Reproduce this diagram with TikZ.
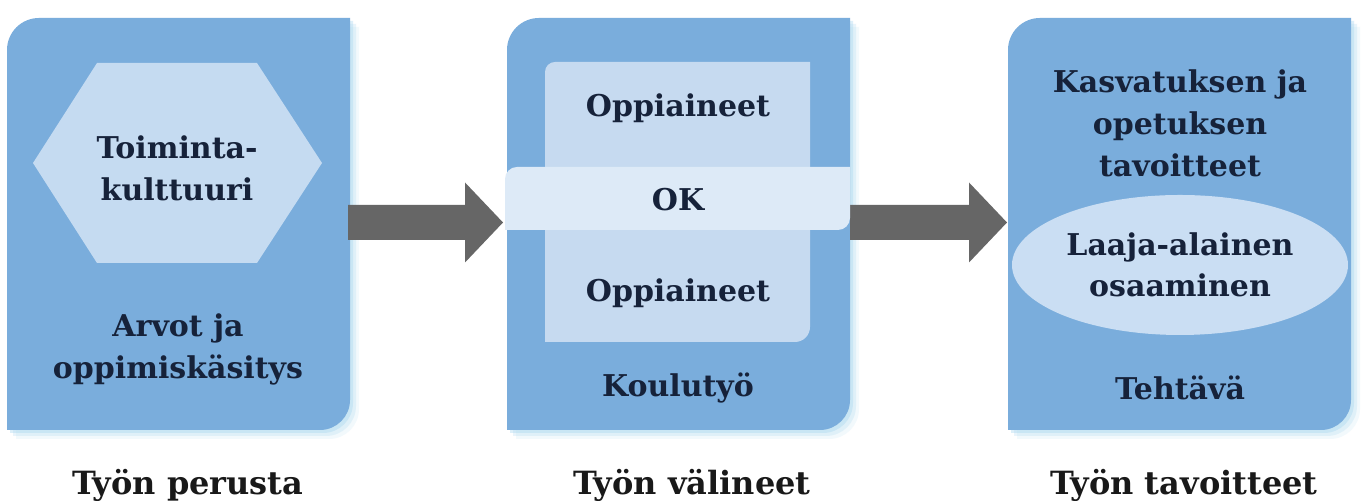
\documentclass[tikz,border=0pt]{standalone}
\usepackage{fontspec}
\setmainfont{DejaVu Serif}
\usetikzlibrary{shapes.geometric,calc}
\definecolor{panelblue}{RGB}{122,173,220}
\definecolor{glowblue}{RGB}{170,215,240}
\definecolor{hexblue}{RGB}{197,219,241}
\definecolor{innerblue}{RGB}{198,218,240}
\definecolor{bandblue}{RGB}{221,234,247}
\definecolor{ellblue}{RGB}{202,222,243}
\definecolor{navytext}{RGB}{22,34,58}
\definecolor{arrowgray}{RGB}{102,102,102}
\tikzset{
  label text/.style={font=\bfseries\fontsize{15}{21}\selectfont, text=navytext, align=center},
  caption text/.style={font=\bfseries\fontsize{16}{20}\selectfont, text=black!90, anchor=base},
}

\begin{document}
\begin{tikzpicture}[x=0.5pt,y=0.5pt]
	\fill[white] (0,0) rectangle (1362,501);
	\useasboundingbox (0,0) rectangle (1362,501);

	% paneelit ja hehku
	\foreach \x in {7,507,1008} {
		\foreach \s/\o in {9/.15,6/.25,3/.4}
			\fill[glowblue,opacity=\o,shift={(\s,-\s)}] (\x,71) -- (\x,451) arc[start angle=180,end angle=90,radius=32] -- (\x+343,483) -- (\x+343,101) arc[start angle=0,end angle=-90,radius=30] -- cycle;
		\fill[panelblue] (\x,71) -- (\x,451) arc[start angle=180,end angle=90,radius=32] -- (\x+343,483) -- (\x+343,101) arc[start angle=0,end angle=-90,radius=30] -- cycle;
	}

	% perusta
	\fill[hexblue] (33,338) -- (97,438) -- (257,438) -- (322,338) -- (257,238) -- (97,238) -- cycle;
	\node[label text] (toiminta) at (177,333) {Toiminta-\\kulttuuri};
	\node[label text] (arvot) at (178,152) {Arvot ja\\oppimiskäsitys};

	% nuolet
	\coordinate (p1-out) at (348,278.5);
	\coordinate (p2-in) at (503,278.5);
	\coordinate (p2-out) at (850,278.5);
	\coordinate (p3-in) at (1007,278.5);
	\foreach \a/\b in {p1-out/p2-in,p2-out/p3-in}
		\fill[arrowgray] ($(\a)+(0,17.5)$) -- ($(\b)+(-38,17.5)$) -- ($(\b)+(-38,40)$) -- (\b) -- ($(\b)+(-38,-40)$) -- ($(\b)+(-38,-17.5)$) -- ($(\a)+(0,-17.5)$) -- cycle;

	% valineet
	\fill[innerblue] (545,159) -- (545,429) arc[start angle=180,end angle=90,radius=10] -- (810,439) -- (810,174) arc[start angle=0,end angle=-90,radius=15] -- cycle;
	\fill[bandblue] (505,271) -- (505,322) arc[start angle=180,end angle=90,radius=12] -- (850,334) -- (850,283) arc[start angle=0,end angle=-90,radius=12] -- cycle;
	\node[label text] (oppi1) at (678,393) {Oppiaineet};
	\node[label text] (ok) at (678,301) {OK};
	\node[label text] (oppi2) at (678,208) {Oppiaineet};
	\node[label text] (koulu) at (678,113) {Koulutyö};

	% tavoitteet
	\node[label text] (kasvatus) at (1180,378) {Kasvatuksen ja\\opetuksen\\tavoitteet};
	\node[label text,ellipse,fill=ellblue,minimum width=168pt,minimum height=70pt,inner sep=0pt] (laaja) at (1180,236) {\raisebox{-3pt}{\shortstack{Laaja-alainen\\[3pt]osaaminen}}};
	\node[label text] (tehtava) at (1180,113) {Tehtävä};

	% alaotsikot
	\node[caption text] (perusta) at (188,6) {Työn perusta};
	\node[caption text] (valineet) at (692,6) {Työn välineet};
	\node[caption text] (tavoitteet) at (1184,6) {Työn tavoitteet};
\end{tikzpicture}
\end{document}
